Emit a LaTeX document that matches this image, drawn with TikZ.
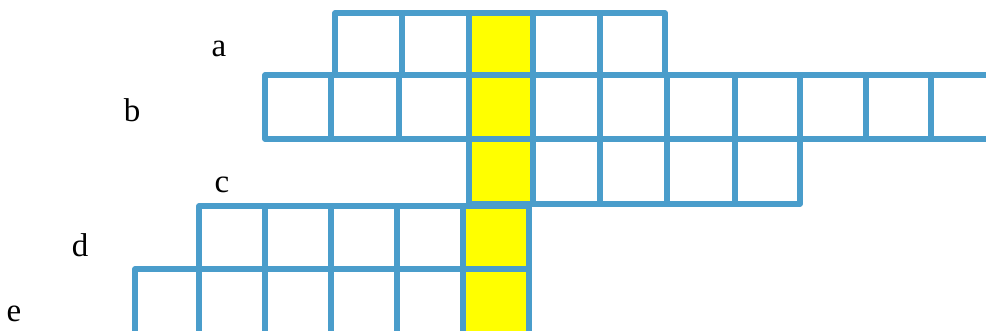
\documentclass[tikz,border=0pt]{standalone}
\usepackage{fontspec}
\setmainfont{Liberation Serif}
\usepackage{xcolor}
\usepackage{tikz}
\definecolor{gridblue}{HTML}{4A9DCB}
\definecolor{ansyellow}{HTML}{FFFF00}
\tikzset{box/.style={draw=gridblue,line width=5.5pt,line join=round},
ans/.style={box,fill=ansyellow},
lbl/.style={anchor=base,inner sep=0pt,font=\fontsize{33}{36}\selectfont}}

\begin{document}
\begin{tikzpicture}[x=1pt,y=-1pt]
\useasboundingbox (0,0) rectangle (986,331);
% row a
\foreach \l/\r in {335/402,402/469,533/600,600/665}
\draw[box](\l,13)rectangle(\r,75);
\draw[ans](469,13)rectangle(533,75);
% row b
\foreach \l/\r in {265/331,331/399,399/469,533/600,600/667,667/735,735/800,800/866,866/931,931/998}
\draw[box](\l,75)rectangle(\r,139);
\draw[ans](469,75)rectangle(533,139);
% row c
\foreach \l/\r in {533/600,600/667,667/735,735/800}
\draw[box](\l,139)rectangle(\r,204);
\draw[ans](469,139)rectangle(533,204);
% row d
\foreach \l/\r in {199/265,265/331,331/397,397/463}
\draw[box](\l,206)rectangle(\r,269);
\draw[ans](463,206)rectangle(529,269);
% row e
\foreach \l/\r in {135/199,199/265,265/331,331/397,397/463}
\draw[box](\l,269)rectangle(\r,338);
\draw[ans](463,269)rectangle(529,338);
% labels
\node[lbl](la) at (219,57){a};
\node[lbl](lb) at (132,122){b};
\node[lbl](lc) at (222,193){c};
\node[lbl](ld) at (80,257){d};
\node[lbl](le) at (14,322){e};
\end{tikzpicture}
\end{document}
